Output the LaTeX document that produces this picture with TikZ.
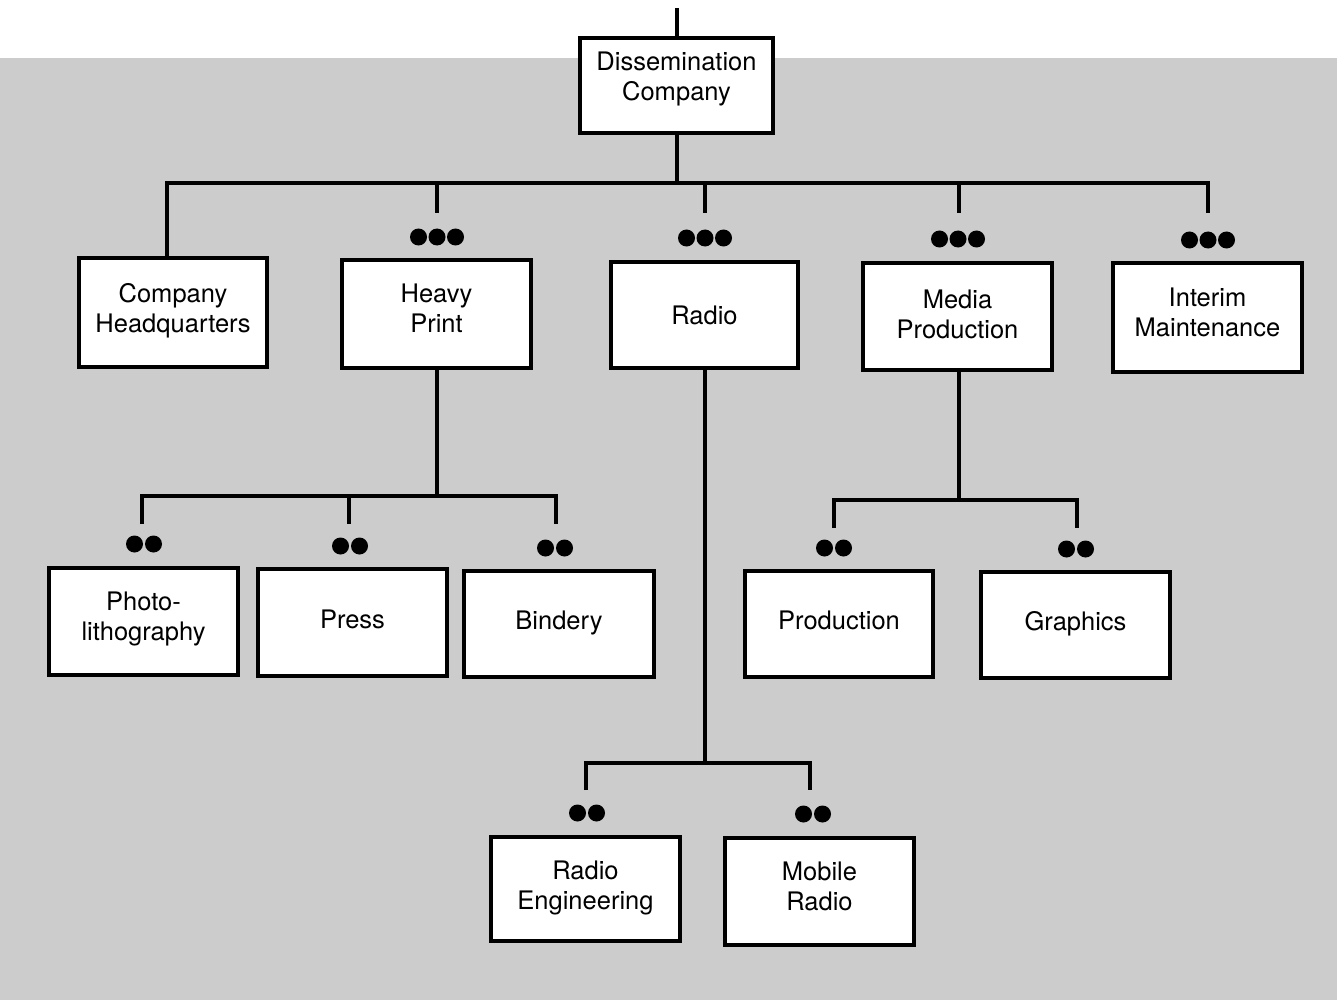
\documentclass[tikz,border=0pt]{standalone}
\usepackage{fontspec}
\setmainfont{TeX Gyre Heros}
\begin{document}
\begin{tikzpicture}[x=1pt,y=-1pt,
  conn/.style={line width=4pt, line join=miter},
  unit/.style={draw, line width=4pt, fill=white, inner sep=0pt},
  txt/.style={inner sep=0pt, align=center, font=\fontsize{25.5}{30}\selectfont},
  dotstwo/.pic={\fill (-9.5,0) circle (8.5pt); \fill (9.5,0) circle (8.5pt);},
  dotsthree/.pic={\fill (-18.5,0) circle (8.5pt); \fill (0,0) circle (8.5pt); \fill (18.5,0) circle (8.5pt);}]
\useasboundingbox (0,0) rectangle (1337,1000);
\fill[black!20] (0,58) rectangle (1337,1000);

% boxes
\node[unit, minimum width=193pt, minimum height=95pt] (dc) at (676.5,85.5) {};
\node[unit, minimum width=188pt, minimum height=109pt] (hq) at (173,312.5) {};
\node[unit, minimum width=189pt, minimum height=108pt] (hp) at (436.5,314) {};
\node[unit, minimum width=187pt, minimum height=106pt] (ra) at (704.5,315) {};
\node[unit, minimum width=189pt, minimum height=107pt] (mp) at (957.5,316.5) {};
\node[unit, minimum width=189pt, minimum height=109pt] (im) at (1207.5,317.5) {};
\node[unit, minimum width=189pt, minimum height=107pt] (ph) at (143.5,621.5) {};
\node[unit, minimum width=189pt, minimum height=107pt] (pr) at (352.5,622.5) {};
\node[unit, minimum width=190pt, minimum height=106pt] (bi) at (559,624) {};
\node[unit, minimum width=188pt, minimum height=106pt] (pd) at (839,624) {};
\node[unit, minimum width=189pt, minimum height=106pt] (gr) at (1075.5,625) {};
\node[unit, minimum width=189pt, minimum height=104pt] (re) at (585.5,889) {};
\node[unit, minimum width=189pt, minimum height=107pt] (mr) at (819.5,891.5) {};

% texts
\node[txt, yshift=7pt] (dct) at (dc) {Dissemination\\Company};
\node[txt, yshift=2pt] (hqt) at (hq) {Company\\Headquarters};
\node[txt, yshift=6pt] (hpt) at (hp) {Heavy\\Print};
\node[txt, yshift=0pt] (rat) at (ra) {Radio};
\node[txt, yshift=2pt] (mpt) at (mp) {Media\\Production};
\node[txt, yshift=5pt] (imt) at (im) {Interim\\Maintenance};
\node[txt, yshift=3pt] (pht) at (ph) {Photo-\\lithography};
\node[txt, yshift=3pt] (prt) at (pr) {Press};
\node[txt, yshift=1pt] (bit) at (bi) {Bindery};
\node[txt, yshift=4pt] (pdt) at (pd) {Production};
\node[txt, yshift=1pt] (grt) at (gr) {Graphics};
\node[txt, yshift=1pt] (ret) at (re) {Radio\\Engineering};
\node[txt, yshift=5pt] (mrt) at (mr) {Mobile\\Radio};

% coordinates
\coordinate (top) at (677,8);
\coordinate (b0) at (677,183);
\coordinate (hpd) at (437,213);
\coordinate (rad) at (705,213);
\coordinate (mpd) at (959,213);
\coordinate (imd) at (1208,213);
\coordinate (hpb) at (437,496);
\coordinate (phd) at (142,524);
\coordinate (prd) at (349,524);
\coordinate (bid) at (556,524);
\coordinate (mpb) at (959,500);
\coordinate (pdd) at (834,528);
\coordinate (grd) at (1077,528);
\coordinate (rab) at (705,763);
\coordinate (red) at (586,790);
\coordinate (mrd) at (810,790);

% level 1
\draw[conn] (top) -- (top |- dc.north);
\draw[conn] (dc.south -| b0) -- (b0);
\draw[conn] (hq.north -| 167,0) |- (imd |- b0) -- (imd);
\draw[conn] (hpd |- b0) -- (hpd);
\draw[conn] (rad |- b0) -- (rad);
\draw[conn] (mpd |- b0) -- (mpd);
\pic at (437,237) {dotsthree};
\pic at (705,238) {dotsthree};
\pic at (958,239) {dotsthree};
\pic at (1208,240) {dotsthree};

% Heavy Print branch
\draw[conn] (hp.south -| hpb) -- (hpb);
\draw[conn] (phd) |- (hpb) -| (bid);
\draw[conn] (prd |- hpb) -- (prd);
\pic at (144,544) {dotstwo};
\pic at (350,546) {dotstwo};
\pic at (555,548) {dotstwo};

% Media Production branch
\draw[conn] (mp.south -| mpb) -- (mpb);
\draw[conn] (pdd) |- (mpb) -| (grd);
\pic at (834,548) {dotstwo};
\pic at (1076,549) {dotstwo};

% Radio branch
\draw[conn] (ra.south -| rab) -- (rab);
\draw[conn] (red) |- (rab) -| (mrd);
\pic at (587,813) {dotstwo};
\pic at (813,814) {dotstwo};
\end{tikzpicture}
\end{document}
